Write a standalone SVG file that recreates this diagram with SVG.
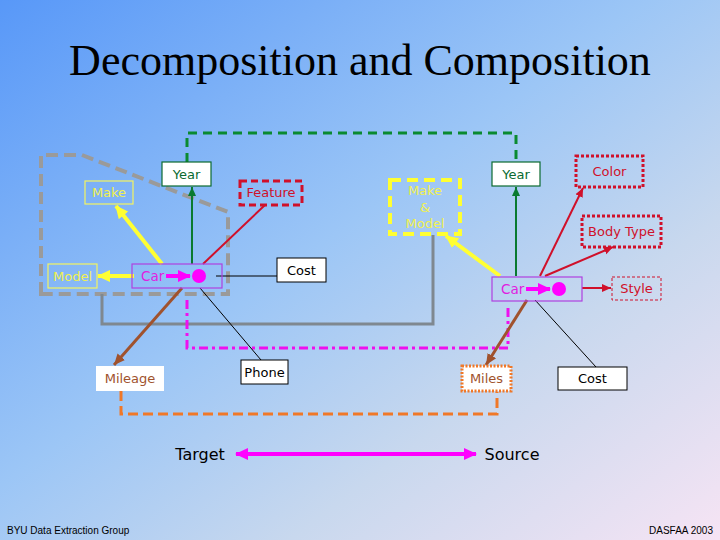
<svg xmlns="http://www.w3.org/2000/svg" width="720" height="540" viewBox="0 0 720 540">
<defs>
<linearGradient id="bg" x1="0" y1="0" x2="1" y2="1">
<stop offset="0" stop-color="#5898f8"/>
<stop offset="0.45" stop-color="#9cc6f6"/>
<stop offset="0.7" stop-color="#c8d8ee"/>
<stop offset="1" stop-color="#f6e4f4"/>
</linearGradient>
<marker id="aY" markerUnits="userSpaceOnUse" markerWidth="14" markerHeight="14" refX="12" refY="7" orient="auto"><path d="M0,1 L13,7 L0,13 Z" fill="#ffff33"/></marker>
<marker id="aG" markerUnits="userSpaceOnUse" markerWidth="10" markerHeight="10" refX="9" refY="5" orient="auto"><path d="M0,1 L9,5 L0,9 Z" fill="#0a7a30"/></marker>
<marker id="aR" markerUnits="userSpaceOnUse" markerWidth="10" markerHeight="10" refX="9" refY="5" orient="auto"><path d="M0,1 L9,5 L0,9 Z" fill="#d0102a"/></marker>
<marker id="aB" markerUnits="userSpaceOnUse" markerWidth="12" markerHeight="12" refX="11" refY="6" orient="auto"><path d="M0,1 L11,6 L0,11 Z" fill="#a0522d"/></marker>
<marker id="aM" markerUnits="userSpaceOnUse" markerWidth="14" markerHeight="14" refX="12" refY="7" orient="auto"><path d="M0,1 L13,7 L0,13 Z" fill="#ff00ff"/></marker>
<marker id="aMs" markerUnits="userSpaceOnUse" markerWidth="14" markerHeight="14" refX="1" refY="7" orient="auto"><path d="M13,1 L0,7 L13,13 Z" fill="#ff00ff"/></marker>
</defs>
<style>
.lbl{font-family:"DejaVu Sans","Liberation Sans",sans-serif;font-size:13px;text-anchor:middle}
.wbox{fill:#ffffff;stroke:#000000;stroke-width:1}
.gbox{fill:#ffffff;stroke:#0a6a30;stroke-width:1.2}
.ybox{fill:none;stroke:#f4f460;stroke-width:1.2}
.ytxt{fill:#f0f050}
.carbox{fill:none;stroke:#b040e0;stroke-width:1.2}
.cartxt{fill:#e020e0;font-size:13.5px;text-anchor:start}
.red{fill:#d0102a}
.rdot{fill:none;stroke:#d0102a;stroke-width:3;stroke-dasharray:3 2}
.brn{fill:#a0522d}
</style>
<rect x="0" y="0" width="720" height="540" fill="url(#bg)"/>
<text x="360" y="75" font-family="Liberation Serif,serif" font-size="44" text-anchor="middle" fill="#000">Decomposition and Composition</text>

<g id="connectors" fill="none">
<path d="M41,294 L41,155 L82,155 L228,212 L228,294 Z" stroke="#9a9a9a" stroke-width="4" stroke-dasharray="12 6"/>
<path d="M187,162 L187,133 L516,133 L516,162" stroke="#0a8a30" stroke-width="3" stroke-dasharray="9 6"/>
<path d="M102,294 L102,324 L433,324 L433,235" stroke="#7f8890" stroke-width="3"/>
<path d="M187,300 L187,348 L508,348 L508,305" stroke="#ee10ee" stroke-width="3" stroke-dasharray="9 4 3 4"/>
<path d="M121,391 L121,414 L497,414 L497,392" stroke="#f07828" stroke-width="3" stroke-dasharray="10 5"/>
<line x1="162" y1="264" x2="116" y2="206" stroke="#ffff33" stroke-width="4" marker-end="url(#aY)"/>
<line x1="134" y1="276" x2="98" y2="276" stroke="#ffff33" stroke-width="4" marker-end="url(#aY)"/>
<line x1="192" y1="264" x2="192" y2="187" stroke="#0a7a30" stroke-width="2" marker-end="url(#aG)"/>
<line x1="203" y1="264" x2="265" y2="205" stroke="#d0102a" stroke-width="2"/>
<line x1="216" y1="276" x2="277" y2="276" stroke="#000" stroke-width="1"/>
<line x1="182" y1="288" x2="114" y2="365" stroke="#a0522d" stroke-width="3" marker-end="url(#aB)"/>
<line x1="200" y1="288" x2="261" y2="360" stroke="#000" stroke-width="1"/>
<line x1="500" y1="276" x2="446" y2="236" stroke="#ffff33" stroke-width="4" marker-end="url(#aY)"/>
<line x1="516" y1="276" x2="516" y2="187" stroke="#0a7a30" stroke-width="2" marker-end="url(#aG)"/>
<line x1="540" y1="276" x2="583" y2="188" stroke="#d0102a" stroke-width="2" marker-end="url(#aR)"/>
<line x1="545" y1="276" x2="613" y2="247" stroke="#d0102a" stroke-width="2" marker-end="url(#aR)"/>
<line x1="582" y1="288" x2="611" y2="288" stroke="#d0102a" stroke-width="2" marker-end="url(#aR)"/>
<line x1="527" y1="300" x2="486" y2="365" stroke="#a0522d" stroke-width="3" marker-end="url(#aB)"/>
<line x1="535" y1="300" x2="596" y2="367" stroke="#000" stroke-width="1"/>
<line x1="236" y1="454" x2="476" y2="454" stroke="#ff00ff" stroke-width="4" marker-start="url(#aMs)" marker-end="url(#aM)"/>
</g>

<g id="year-left"><rect class="gbox" x="162" y="162" width="49" height="24"/><text class="lbl" x="186.5" y="179" fill="#0a6a30">Year</text></g>
<g id="make"><rect class="ybox" x="85" y="181" width="48" height="23"/><text class="lbl ytxt" x="109" y="197">Make</text></g>
<g id="model"><rect class="ybox" x="48" y="264" width="49" height="24"/><text class="lbl ytxt" x="72.5" y="281">Model</text></g>
<g id="feature"><rect x="240" y="181" width="62" height="24" fill="none" stroke="#d0102a" stroke-width="3" stroke-dasharray="7 4"/><text class="lbl red" x="271" y="197">Feature</text></g>
<g id="car-left"><rect class="carbox" x="132" y="264" width="90" height="24"/><text class="lbl cartxt" x="141" y="281">Car</text><line x1="166" y1="276" x2="190" y2="276" stroke="#ff00ff" stroke-width="4" marker-end="url(#aM)"/><circle cx="199" cy="276" r="7" fill="#ff00ff"/></g>
<g id="cost-left"><rect class="wbox" x="277" y="258" width="49" height="24"/><text class="lbl" x="301.5" y="275" fill="#000">Cost</text></g>
<g id="mileage"><rect x="96" y="366" width="68" height="25" fill="#ffffff"/><text class="lbl brn" x="130" y="383">Mileage</text></g>
<g id="phone"><rect class="wbox" x="241" y="360" width="47" height="24"/><text class="lbl" x="264.5" y="377" fill="#000">Phone</text></g>

<g id="make-model"><rect x="390" y="180" width="70" height="54" fill="none" stroke="#ffff33" stroke-width="4" stroke-dasharray="11 6"/><text class="lbl ytxt" x="425" y="195">Make</text><text class="lbl ytxt" x="425" y="212">&amp;</text><text class="lbl ytxt" x="425" y="228">Model</text></g>
<g id="year-right"><rect class="gbox" x="492" y="162" width="48" height="24"/><text class="lbl" x="516" y="179" fill="#0a6a30">Year</text></g>
<g id="color"><rect class="rdot" x="576" y="156" width="67" height="31"/><text class="lbl red" x="609.5" y="176">Color</text></g>
<g id="body-type"><rect class="rdot" x="582" y="216" width="79" height="31"/><text class="lbl red" x="621.5" y="236">Body Type</text></g>
<g id="style"><rect x="612" y="277" width="49" height="23" fill="none" stroke="#d0102a" stroke-width="1" stroke-dasharray="3 2"/><text class="lbl red" x="636.5" y="293">Style</text></g>
<g id="car-right"><rect class="carbox" x="492" y="277" width="90" height="24"/><text class="lbl cartxt" x="501" y="294">Car</text><line x1="526" y1="289" x2="550" y2="289" stroke="#ff00ff" stroke-width="4" marker-end="url(#aM)"/><circle cx="559" cy="289" r="7" fill="#ff00ff"/></g>
<g id="miles"><rect x="462" y="366" width="49" height="25" fill="#ffffff" stroke="#f07828" stroke-width="3" stroke-dasharray="2 1.5"/><text class="lbl brn" x="486.5" y="383">Miles</text></g>
<g id="cost-right"><rect class="wbox" x="558" y="367" width="69" height="23"/><text class="lbl" x="592.5" y="383" fill="#000">Cost</text></g>

<g id="target"><text x="200" y="460" font-family="DejaVu Sans,sans-serif" font-size="16" text-anchor="middle" fill="#000">Target</text></g>
<g id="source"><text x="512" y="460" font-family="DejaVu Sans,sans-serif" font-size="16" text-anchor="middle" fill="#000">Source</text></g>
<text x="7" y="534" font-family="Liberation Sans,sans-serif" font-size="10" fill="#000">BYU Data Extraction Group</text>
<text x="713" y="534" font-family="Liberation Sans,sans-serif" font-size="10" text-anchor="end" fill="#000">DASFAA 2003</text>
</svg>
